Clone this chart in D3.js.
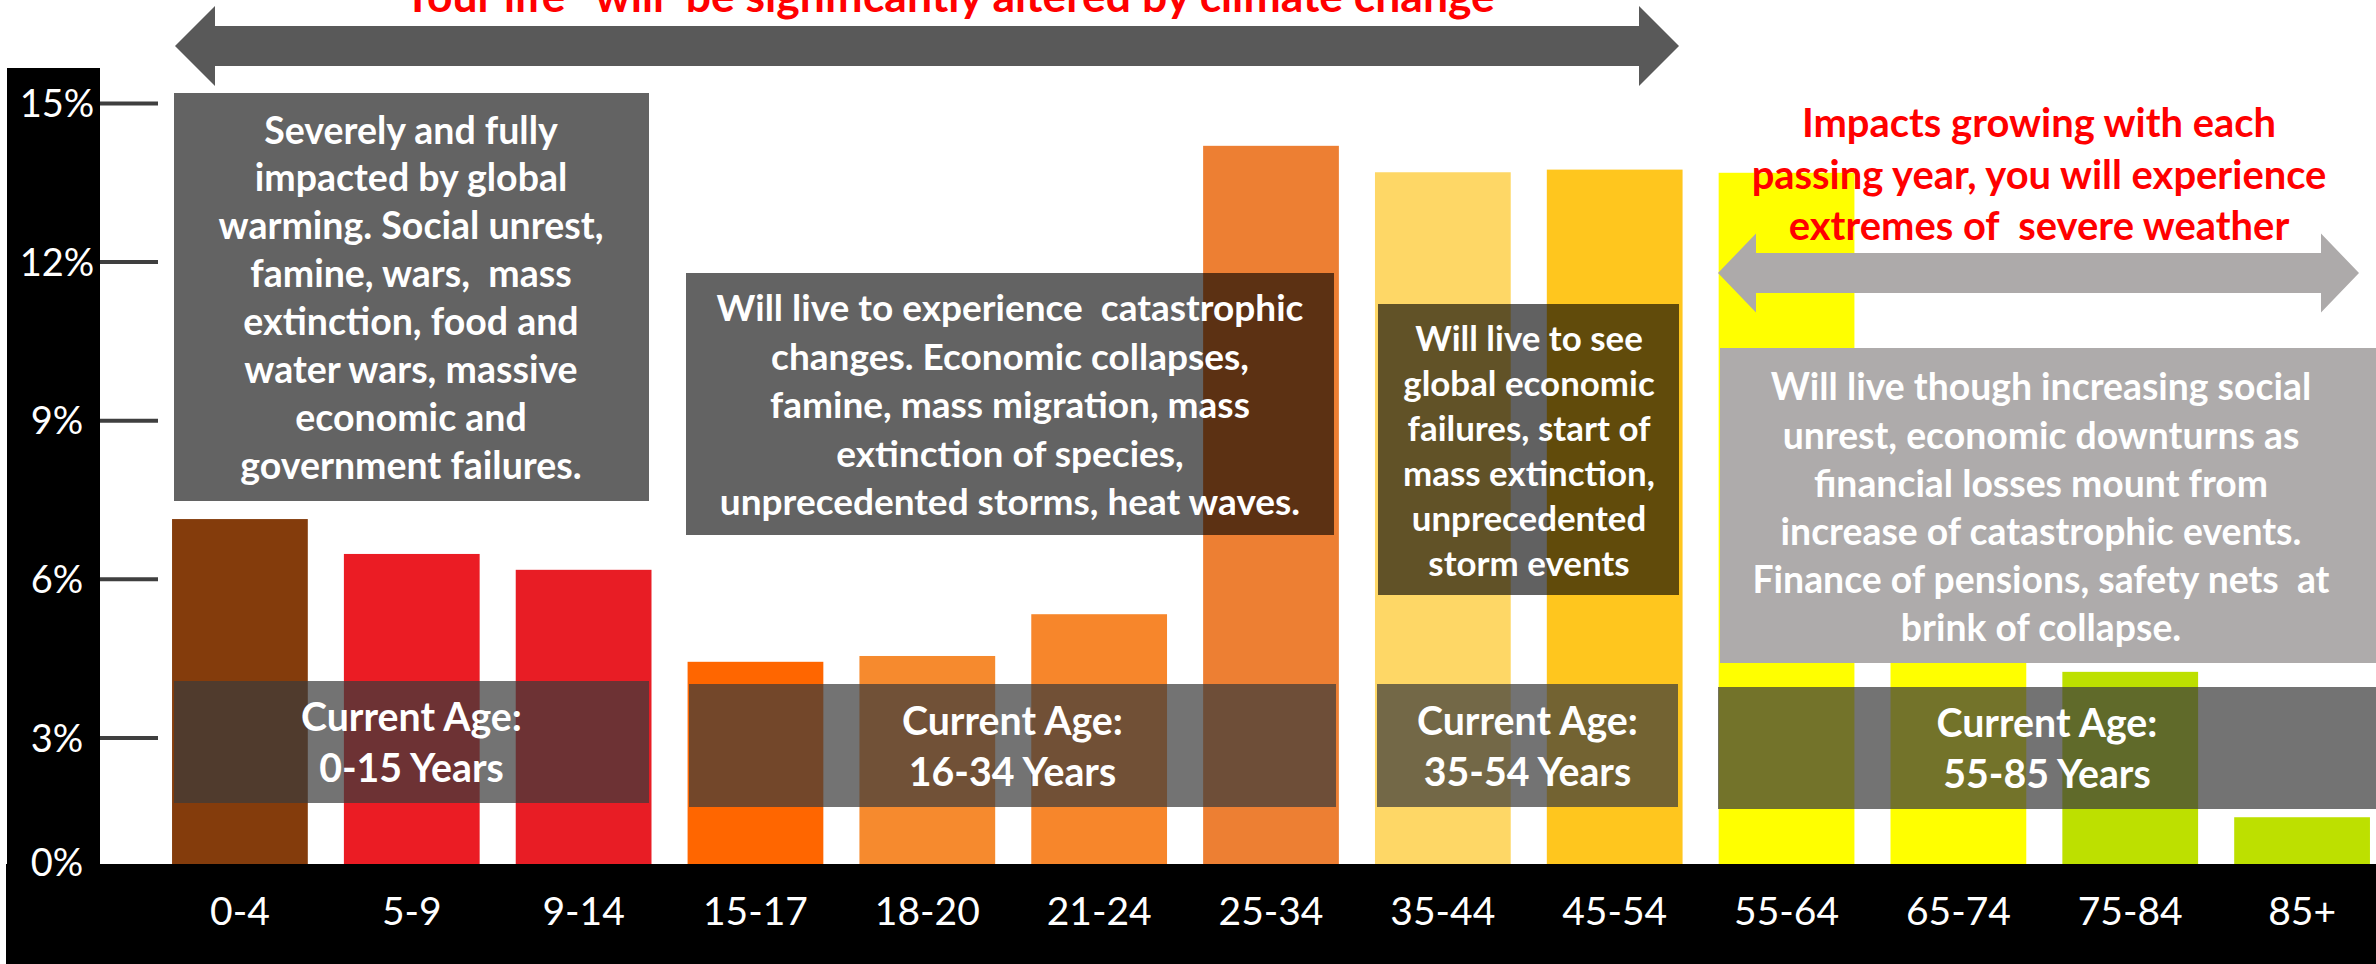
<!DOCTYPE html>
<html>
<head>
<meta charset="utf-8">
<script src="https://cdn.jsdelivr.net/npm/d3@7"></script>
<style>
  html, body { margin: 0; padding: 0; background: #fff; }
  svg { display: block; }
  text { font-family: Lato, "Open Sans", "DejaVu Sans", sans-serif; white-space: pre; }
</style>
</head>
<body>
<svg id="chart" width="2376" height="964"></svg>
<script>
// ---------------- data ----------------
const categories = ["0-4", "5-9", "9-14", "15-17", "18-20", "21-24", "25-34",
                    "35-44", "45-54", "55-64", "65-74", "75-84", "85+"];
const values = [7.13, 6.47, 6.17, 4.43, 4.54, 5.33, 14.19, 13.69, 13.74, 13.68, 7.5, 4.24, 1.49];
const yTicks = [0, 3, 6, 9, 12, 15];

const titleText = "Your life\u2019  will  be significantly altered by climate change";
const box1Lines = ["Severely and fully", "impacted by global", "warming. Social unrest,",
  "famine, wars,  mass", "extinction, food and", "water wars, massive",
  "economic and", "government failures."];
const box2Lines = ["Will live to experience  catastrophic", "changes. Economic collapses,",
  "famine, mass migration, mass", "extinction of species,",
  "unprecedented storms, heat waves."];
const box3Lines = ["Will live to see", "global economic", "failures, start of",
  "mass extinction,", "unprecedented", "storm events"];
const box4Lines = ["Will live though increasing social", "unrest, economic downturns as",
  "financial losses mount from", "increase of catastrophic events.",
  "Finance of pensions, safety nets  at", "brink of collapse."];
const redLines = ["Impacts growing with each", "passing year, you will experience",
  "extremes of  severe weather"];
const ageGroups = ["0-15", "16-34", "35-54", "55-85"];

// ---------------- styles ----------------
const barColors = ["#843c0c", "#eb1c24", "#e81d25", "#ff6600", "#f68a2e", "#f7862b",
  "#ed7f33", "#fed766", "#ffc61e", "#ffff00", "#ffff00", "#bde000", "#bde000"];

// ---------------- drawing ----------------
const svg = d3.select("#chart");
const W = 2376, H = 964;
const floorY = 864;

svg.append("rect").attr("width", W).attr("height", H).attr("fill", "#ffffff");

const x = d3.scaleBand().domain(categories).range([154, 2388])
  .paddingInner(0.21).paddingOuter(0.105);
const y = d3.scaleLinear().domain([0, 15]).range([896, 103]);

// bars
svg.append("g").selectAll("rect").data(categories).join("rect")
  .attr("x", d => x(d))
  .attr("width", x.bandwidth())
  .attr("y", (d, i) => y(values[i]))
  .attr("height", (d, i) => y(0) - y(values[i]))
  .attr("fill", (d, i) => barColors[i]);

// black panels
svg.append("rect").attr("x", 7).attr("y", 68).attr("width", 93).attr("height", H - 68).attr("fill", "#000");
svg.append("rect").attr("x", 6).attr("y", floorY).attr("width", W - 6).attr("height", H - floorY).attr("fill", "#000");

// y axis
const yAxis = svg.append("g").attr("transform", "translate(158,0)")
  .call(d3.axisLeft(y).tickValues(yTicks).tickFormat(d => d + "%").tickSize(58).tickPadding(0));
yAxis.select(".domain").remove();
yAxis.selectAll(".tick line").attr("stroke", "#3f3f3f").attr("stroke-width", 4)
  .attr("display", d => d === 0 ? "none" : null);
yAxis.selectAll(".tick text")
  .attr("x", -101).attr("text-anchor", "middle").attr("dy", "0.36em")
  .attr("y", d => d === 0 ? floorY - 2 - y(0) : 0)
  .attr("fill", "#fff").style("font-size", "38px").style("font-family", "Lato, sans-serif");

// x axis
const xAxis = svg.append("g").attr("transform", "translate(0," + floorY + ")")
  .call(d3.axisBottom(x).tickSize(0).tickPadding(33));
xAxis.select(".domain").remove();
xAxis.selectAll(".tick text").attr("fill", "#fff")
  .style("font-size", "39px").style("font-family", "Lato, sans-serif");

// helper: fitted multi-line text
function textBlock(lines, cx, y0, gap, targetW, color, weight) {
  const g = svg.append("g");
  const t = g.selectAll("text").data(lines).join("text")
    .attr("x", cx).attr("text-anchor", "middle")
    .attr("fill", color).style("font-weight", weight || 700)
    .style("font-size", "40px")
    .text(d => d);
  let maxW = 0;
  t.each(function () { maxW = Math.max(maxW, this.getComputedTextLength()); });
  const fs = 40 * targetW / maxW;
  t.style("font-size", fs + "px")
    .attr("y", (d, i) => y0 + i * gap)
    .attr("dy", "0.36em");
  return g;
}

function box(x0, y0, x1, y1, fill, op) {
  svg.append("rect").attr("x", x0).attr("y", y0).attr("width", x1 - x0).attr("height", y1 - y0)
    .attr("fill", fill).attr("fill-opacity", op);
}

// big description boxes
box(174, 93, 649, 501, "#000", 0.61);
textBlock(box1Lines, 411, 130, 47.9, 385, "#fff");

box(686, 273, 1334, 535, "#000", 0.61);
textBlock(box2Lines, 1010, 308, 48.5, 587, "#fff");

box(1378, 304, 1679, 595, "#000", 0.62);
textBlock(box3Lines, 1529, 338, 45, 252, "#fff");

box(1720, 348, 2376, 663, "#aeabab", 1);
textBlock(box4Lines, 2041, 387, 48.2, 577, "#fff");

// current age boxes
const ageBoxes = [[174, 681, 649, 803], [689, 684, 1336, 807], [1377, 684, 1678, 807], [1718, 687, 2376, 809]];
ageGroups.forEach((g, i) => {
  const b = ageBoxes[i];
  box(b[0], b[1], b[2], b[3], "#3b3b3b", 0.715);
  const cy = (b[1] + b[3]) / 2;
  textBlock(["Current Age:", g + " Years"], (b[0] + b[2]) / 2, cy - 25, 51, 221, "#fff");
});

// arrows
function dblArrow(x1, x2, cy, shaft, head, hl, fill) {
  const s = shaft / 2, h = head / 2;
  const pts = [[x1, cy], [x1 + hl, cy - h], [x1 + hl, cy - s], [x2 - hl, cy - s], [x2 - hl, cy - h],
    [x2, cy], [x2 - hl, cy + h], [x2 - hl, cy + s], [x1 + hl, cy + s], [x1 + hl, cy + h]];
  svg.append("path").attr("d", d3.line()(pts) + "Z").attr("fill", fill);
}
dblArrow(175, 1679, 46, 40, 80, 40, "#595959");
dblArrow(1718, 2359, 273, 40, 79, 38, "#adaaaa");

// red texts
textBlock(redLines, 2039, 123, 51.5, 575, "#ff0000");

const tt = svg.append("text").attr("x", 949).attr("y", 12).attr("text-anchor", "middle")
  .attr("fill", "#ff0000").style("font-weight", 700).style("font-size", "40px").text(titleText);
const tw = tt.node().getComputedTextLength();
tt.style("font-size", (40 * 1092 / tw) + "px");
</script>
</body>
</html>
